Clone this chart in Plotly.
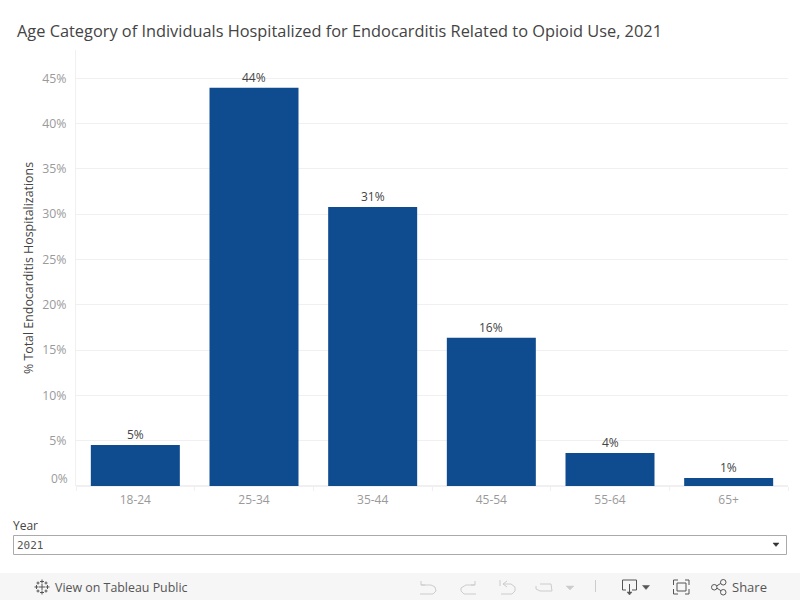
import plotly.graph_objects as go

categories = ["18-24", "25-34", "35-44", "45-54", "55-64", "65+"]
values = [4.53, 43.95, 30.8, 16.35, 3.64, 0.88]
labels = ["5%", "44%", "31%", "16%", "4%", "1%"]
tick_vals = [5, 10, 15, 20, 25, 30, 35, 40, 45]
tick_text = ["5%", "10%", "15%", "20%", "25%", "30%", "35%", "40%", "45%"]
title = "Age Category of Individuals Hospitalized for Endocarditis Related to Opioid Use, 2021"
y_title = "% Total Endocarditis Hospitalizations"

W, H = 800, 600
L, R, T, B = 76, 788, 50, 486
FONT = "Open Sans"


def px(x):
    return (x - L) / (R - L)


def py(y):
    return (B - y) / (B - T)


def path(points, close=False):
    s = ""
    for i, (x, y) in enumerate(points):
        s += ("M" if i == 0 else "L") + f"{px(x):.5f},{py(y):.5f} "
    return s + ("Z" if close else "")


def line_shape(points, color, width=1.0, close=False, fill=None):
    return dict(type="path", xref="paper", yref="paper", path=path(points, close),
                line=dict(color=color, width=width), fillcolor=fill, layer="above")


def rect(x0, y0, x1, y1, fill, color=None, width=0):
    return dict(type="rect", xref="paper", yref="paper", x0=px(x0), x1=px(x1), y0=py(y0), y1=py(y1),
                fillcolor=fill, line=dict(color=color or fill, width=width), layer="above")


def text(x, y, s, size, color, anchor="left", font=FONT):
    return dict(xref="paper", yref="paper", x=px(x), y=py(y), text=s, showarrow=False,
                xanchor=anchor, yanchor="middle", font=dict(size=size, color=color, family=font))


fig = go.Figure(go.Bar(
    x=categories, y=values, cliponaxis=False,
    marker=dict(color="#0f4c8f", line=dict(width=0)), hoverinfo="skip",
))

GI = "#9a9a9a"
DK = "#555555"
shapes = [
    rect(0, 573, 800, 600, "#f6f6f6"),
    rect(13.5, 535.5, 786.5, 554.5, "#ffffff", "#aaaaaa", 1),
    line_shape([(773, 543), (779, 543), (776, 546.5)], "#333333", 0.5, True, "#333333"),
    # undo
    line_shape([(421, 581), (421, 585), (425, 585)], "#cccccc"),
    line_shape([(421, 585), (431, 585), (435, 587), (436, 591), (433, 594), (420, 594)], "#cccccc"),
    # redo
    line_shape([(475, 581), (475, 585), (471, 585)], "#cccccc"),
    line_shape([(475, 585), (466, 585), (461, 588), (461, 591), (464, 594), (476, 594)], "#cccccc"),
    # revert
    line_shape([(500, 580), (500, 586)], "#cccccc"),
    line_shape([(507, 581), (503, 584), (507, 587)], "#cccccc"),
    line_shape([(503, 584), (511, 584), (515, 587), (515, 591), (512, 594), (501, 594)], "#cccccc"),
    # refresh
    line_shape([(540, 584), (551, 584), (552, 591), (540, 591), (536, 589), (536, 586)], "#cccccc"),
    line_shape([(566, 586), (574, 586), (570, 590)], "#cccccc", 0.5, True, "#cccccc"),
    line_shape([(595.5, 580), (595.5, 592)], "#cccccc"),
    # download
    line_shape([(626, 590), (622.5, 590), (622.5, 580), (636.5, 580), (636.5, 590), (632, 590)], "#555555"),
    line_shape([(629.5, 584), (629.5, 594)], "#555555"),
    line_shape([(627, 592), (632, 592), (629.5, 595)], "#555555", 0.5, True, "#555555"),
    line_shape([(642.5, 585.5), (649.5, 585.5), (646, 589.5)], "#555555", 0.5, True, "#555555"),
    # fullscreen
    rect(677, 583, 686, 591, "rgba(0,0,0,0)", "#555555", 1),
    line_shape([(678, 580), (673.5, 580), (673.5, 585)], "#555555"),
    line_shape([(685, 580), (689, 580), (689, 585)], "#555555"),
    line_shape([(678, 594), (673.5, 594), (673.5, 589)], "#555555"),
    line_shape([(685, 594), (689, 594), (689, 589)], "#555555"),
    # share
    line_shape([(715, 587), (723, 582)], "#555555"),
    line_shape([(715, 587), (723, 592)], "#555555"),
    dict(type="circle", xref="paper", yref="paper", x0=px(711.5), x1=px(717), y0=py(584.5), y1=py(590),
         line=dict(color="#555555", width=1), fillcolor="#f6f6f6", layer="above"),
    dict(type="circle", xref="paper", yref="paper", x0=px(720.5), x1=px(726), y0=py(579.5), y1=py(585),
         line=dict(color="#555555", width=1), fillcolor="#f6f6f6", layer="above"),
    dict(type="circle", xref="paper", yref="paper", x0=px(720.5), x1=px(726), y0=py(589.5), y1=py(595),
         line=dict(color="#555555", width=1), fillcolor="#f6f6f6", layer="above"),
]
# Tableau logo marks
for cx, cy, r in [(42, 587, 3), (36.5, 587, 2), (47.5, 587, 2), (42, 581.5, 2), (42, 592.5, 2),
                  (38, 583, 1.5), (46, 583, 1.5), (38, 591, 1.5), (46, 591, 1.5)]:
    shapes.append(line_shape([(cx - r, cy), (cx + r, cy)], "#555555", 1))
    shapes.append(line_shape([(cx, cy - r), (cx, cy + r)], "#555555", 1))

annotations = [
    text(15, 31, title, 16.35, "#444444"),
    text(70, 478, "0%", 12, GI, "right"),
    text(11, 525, "Year", 12, "#444444"),
    text(15, 545, "2021", 11, "#555555", font="DejaVu Sans Mono"),
    text(53, 587, "View on Tableau Public", 12.4, DK),
    text(730, 587, "Share", 13, DK),
]
for c, v, s in zip(categories, values, labels):
    annotations.append(dict(x=c, y=v, text=s, showarrow=False, xanchor="center", yanchor="bottom",
                            yshift=0, font=dict(size=12, color="#444444", family=FONT)))

fig.update_layout(
    width=W, height=H, autosize=False,
    margin=dict(l=L, r=W - R, t=T, b=H - B, pad=0, autoexpand=False),
    paper_bgcolor="white", plot_bgcolor="white",
    bargap=0.25, showlegend=False, shapes=shapes, annotations=annotations,
    font=dict(family=FONT),
    xaxis=dict(showgrid=False, zeroline=False, showline=False, ticks="outside", tickson="boundaries",
               ticklen=4, tickcolor="#f0f0f0", tickwidth=1, tickangle=0,
               tickfont=dict(size=12, color=GI, family=FONT), ticklabelstandoff=5),
    yaxis=dict(range=[0, 48.12], tickvals=tick_vals, ticktext=tick_text, gridcolor="#f0f0f0", gridwidth=1,
               zeroline=True, zerolinecolor="#f0f0f0", showline=True, linecolor="#f0f0f0", ticks="",
               ticklabelstandoff=6, tickfont=dict(size=12.3, color=GI, family=FONT),
               title=dict(text=y_title, font=dict(size=12.4, color="#444444", family=FONT), standoff=5)),
)
fig.write_html("out.html", config={"displayModeBar": False},
               post_script="document.body.style.margin='0';")
